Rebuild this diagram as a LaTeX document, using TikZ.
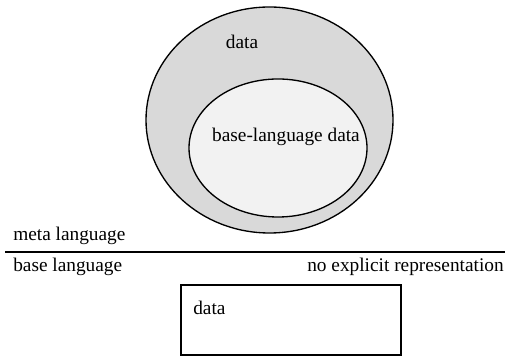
\documentclass[tikz,border=0pt]{standalone}
\usepackage{fontspec}
\setmainfont{Liberation Serif}
\usetikzlibrary{shapes.geometric}

\definecolor{outergray}{HTML}{D9D9D9}
\definecolor{innergray}{HTML}{F2F2F2}

\begin{document}
\begin{tikzpicture}[
    x=0.75pt, y=0.75pt,
    font=\fontsize{14.5}{17}\selectfont,
    % Style for the two nested data sets
    dataset/.style={ellipse, draw=black, line width=1pt, inner sep=0pt},
    % Style for the plain labels
    lbl/.style={inner sep=0pt}
]
    \useasboundingbox (0,0) rectangle (506,356);

    % --- 1. Define Coordinates ---
    \coordinate (outer) at (269.5, 236);
    \coordinate (inner) at (278, 208);
    \coordinate (sepl) at (5, 104);
    \coordinate (sepr) at (505, 104);

    % --- 2. Draw the Sets ---
    \node[dataset, fill=outergray, minimum width=185.25pt, minimum height=169.5pt] (metadata) at (outer) {};
    \node[dataset, fill=innergray, minimum width=133.5pt, minimum height=103.5pt] (basedata) at (inner) {};

    \node[lbl] (metatext) at (242, 314) {data};
    \node[lbl] (basetext) at (286, 219) {base-language data};

    % --- 3. Draw the Separator ---
    \draw[line width=1pt] (sepl) -- (sepr);

    \node[lbl, anchor=base west] (meta) at (13, 115) {meta language};
    \node[lbl, anchor=base west] (base) at (13, 84) {base language};
    \node[lbl, anchor=base east] (noexpl) at (504, 84) {no explicit representation};

    % --- 4. Draw the Data Box ---
    \node[draw=black, line width=1pt, minimum width=165pt, minimum height=52.5pt, inner sep=0pt] (box) at (291, 36) {};
    \node[lbl, anchor=base west] (boxtext) at (193, 41) {data};

\end{tikzpicture}
\end{document}
